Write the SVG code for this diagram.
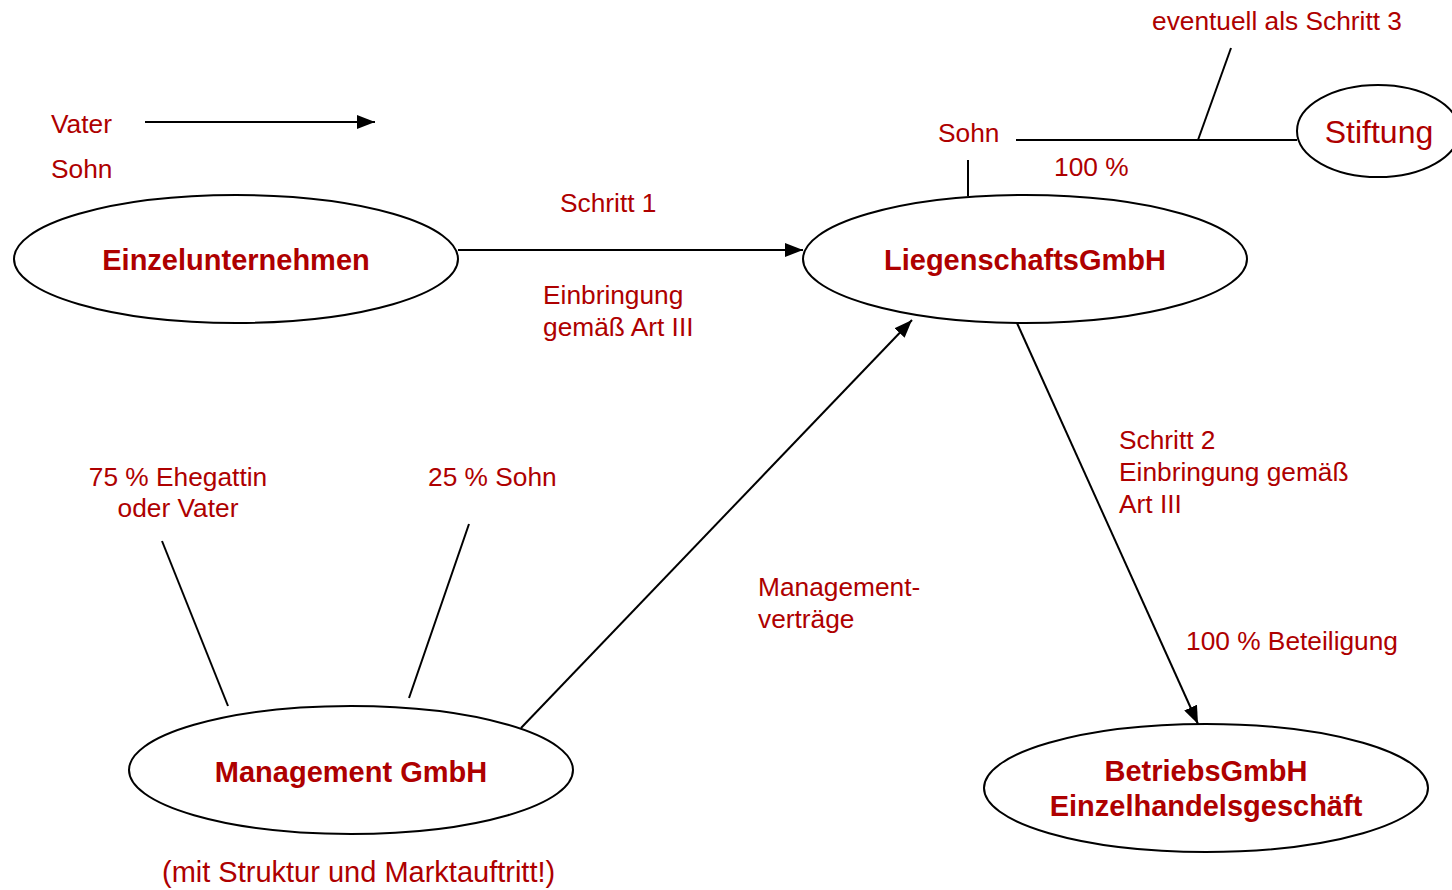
<svg xmlns="http://www.w3.org/2000/svg" width="1452" height="890" viewBox="0 0 1452 890">
<style>
.n{fill:#fff;stroke:#000;stroke-width:2}
.l{stroke:#000;stroke-width:2;fill:none}
.t{font-family:"Liberation Sans",Arial,sans-serif;font-size:26.3px;fill:#ae0000}
.b{font-family:"Liberation Sans",Arial,sans-serif;font-size:29px;font-weight:bold;fill:#ae0000;text-anchor:middle}
</style>
<defs>
<marker id="ah" markerUnits="userSpaceOnUse" markerWidth="18" markerHeight="14" refX="18" refY="7" orient="auto">
<path d="M0,0 L18,7 L0,14 z" fill="#000"/>
</marker>
</defs>
<rect width="1452" height="890" fill="#fff"/>
<g id="connectors">
<line class="l" x1="145" y1="122" x2="375" y2="122" marker-end="url(#ah)"/>
<line class="l" x1="458" y1="250" x2="803" y2="250" marker-end="url(#ah)"/>
<line class="l" x1="1016" y1="140" x2="1297" y2="140"/>
<line class="l" x1="968" y1="160" x2="968" y2="196"/>
<line class="l" x1="1231" y1="48" x2="1198" y2="140"/>
<line class="l" x1="521" y1="728" x2="912" y2="320" marker-end="url(#ah)"/>
<line class="l" x1="1017" y1="323" x2="1198" y2="724" marker-end="url(#ah)"/>
<line class="l" x1="162" y1="541" x2="228" y2="706"/>
<line class="l" x1="469" y1="524" x2="409" y2="698"/>
</g>
<g id="einzelunternehmen">
<ellipse class="n" cx="236" cy="259" rx="222" ry="64"/>
<text class="b" x="236" y="270">Einzelunternehmen</text>
</g>
<g id="liegenschaftsgmbh">
<ellipse class="n" cx="1025" cy="259" rx="222" ry="64"/>
<text class="b" x="1025" y="270">LiegenschaftsGmbH</text>
</g>
<g id="managementgmbh">
<ellipse class="n" cx="351" cy="770" rx="222" ry="64"/>
<text class="b" x="351" y="782">Management GmbH</text>
</g>
<g id="betriebsgmbh">
<ellipse class="n" cx="1206" cy="788" rx="222" ry="64"/>
<text class="b" x="1206" y="781">BetriebsGmbH</text>
<text class="b" x="1206" y="816">Einzelhandelsgeschäft</text>
</g>
<g id="stiftung">
<ellipse class="n" cx="1378" cy="131" rx="81" ry="46"/>
<text class="t" x="1379" y="143" style="font-size:32px;text-anchor:middle">Stiftung</text>
</g>
<g id="labels">
<text class="t" x="51" y="133">Vater</text>
<text class="t" x="51" y="178">Sohn</text>
<text class="t" x="560" y="212">Schritt 1</text>
<text class="t" x="543" y="304">Einbringung</text>
<text class="t" x="543" y="336">gemäß Art III</text>
<text class="t" x="938" y="142">Sohn</text>
<text class="t" x="1054" y="176">100 %</text>
<text class="t" x="1152" y="30">eventuell als Schritt 3</text>
<text class="t" x="178" y="486" style="text-anchor:middle">75 % Ehegattin</text>
<text class="t" x="178" y="517" style="text-anchor:middle">oder Vater</text>
<text class="t" x="428" y="486">25 % Sohn</text>
<text class="t" x="758" y="596">Management-</text>
<text class="t" x="758" y="628">verträge</text>
<text class="t" x="1119" y="449">Schritt 2</text>
<text class="t" x="1119" y="481">Einbringung gemäß</text>
<text class="t" x="1119" y="513">Art III</text>
<text class="t" x="1186" y="650">100 % Beteiligung</text>
<text class="t" x="162" y="882" style="font-size:29px">(mit Struktur und Marktauftritt!)</text>
</g>
</svg>
